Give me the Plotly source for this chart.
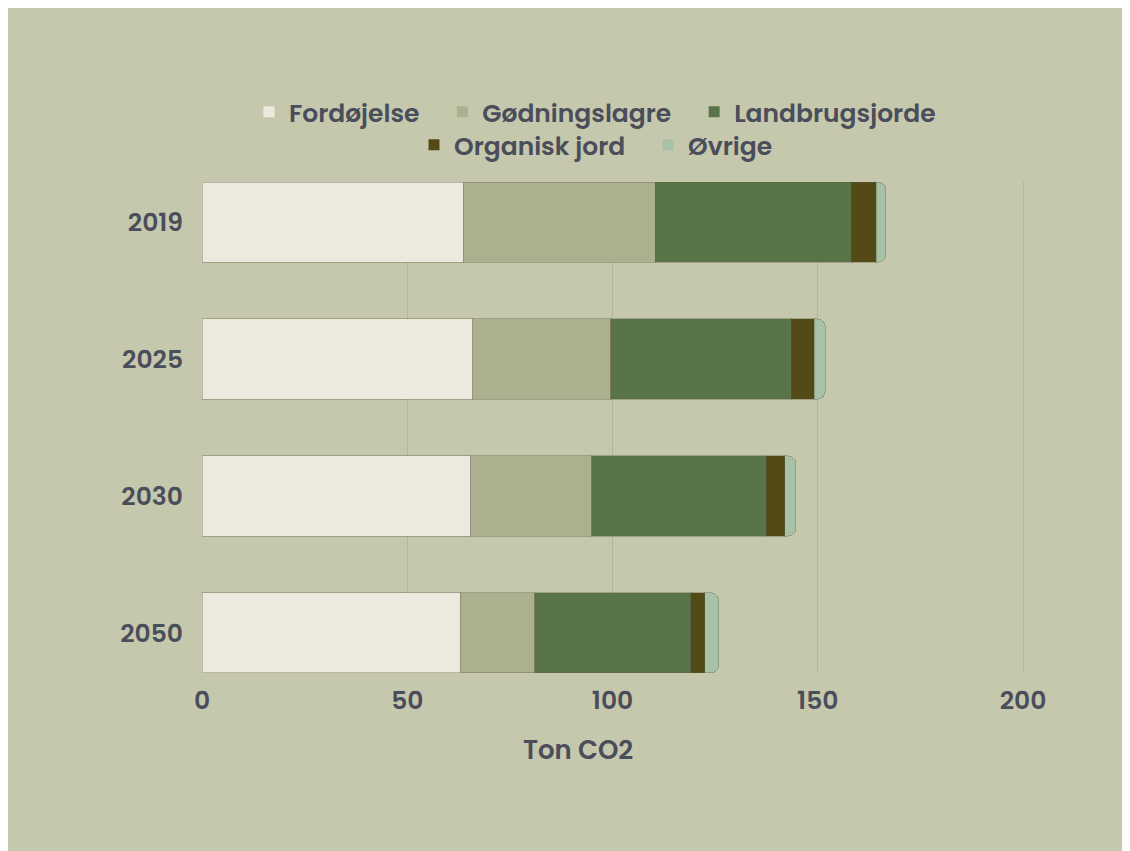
import plotly.graph_objects as go

# data (Ton CO2)
years = ["2019", "2025", "2030", "2050"]
fordoejelse = [63.6, 66.0, 65.5, 62.9]
goedningslagre = [46.8, 33.6, 29.5, 18.2]
landbrugsjorde = [47.7, 43.9, 42.4, 38.0]
organisk_jord = [6.1, 5.6, 4.6, 3.4]
oevrige = [2.4, 2.7, 2.7, 3.4]

# name, values, colour, legend row, last in row
series = [
    ("Fordøjelse", fordoejelse, "#eceadf", "legend", False),
    ("Gødningslagre", goedningslagre, "#adb08f", "legend", False),
    ("Landbrugsjorde", landbrugsjorde, "#5a744a", "legend", True),
    ("Organisk jord", organisk_jord, "#544a18", "legend2", False),
    ("Øvrige", oevrige, "#a8c2a8", "legend2", True),
]

bg = "#c5c8ad"
txt = "#4a4d5a"
font_family = "Poppins, Open Sans, sans-serif"
pad = "\u00a0" * 3  # extra space between legend entries

fig = go.Figure()
for name, vals, col, leg, last in series:
    fig.add_bar(
        y=years, x=vals, name=name, orientation="h",
        marker=dict(color=col, line=dict(color="rgba(90,90,60,0.35)", width=1)),
        showlegend=False,
    )
    # legend entry with a plain square symbol
    fig.add_scatter(
        x=[None], y=[None], mode="markers", name=name if last else name + pad,
        marker=dict(symbol="square", size=11, color=col),
        legend=leg, hoverinfo="skip",
    )

# plot area in figure px: x 194..1092, y 174..665
L, R, T, B = 194, 1092, 174, 665
W, H = 1130, 851
pw, ph = R - L, B - T

def px_x(x):
    return (x - L) / pw

def px_y(y):
    return (B - y) / ph

fig.add_annotation(text="Ton CO2", xref="paper", yref="paper",
                   x=px_x(570), y=px_y(742), xanchor="center", yanchor="middle",
                   showarrow=False,
                   font=dict(size=26, color=txt, family=font_family, weight=600))

fig.update_layout(
    width=W, height=H,
    margin=dict(l=L, r=W - R, t=T, b=H - B),
    paper_bgcolor=bg,
    plot_bgcolor=bg,
    barmode="stack",
    bargap=0.415,
    barcornerradius=8,
    font=dict(family=font_family, color=txt, size=25, weight=600),
    legend=dict(orientation="h", x=px_x(587), xanchor="center",
                y=px_y(104), yanchor="middle", bgcolor="rgba(0,0,0,0)",
                font=dict(size=25, color=txt), traceorder="normal",
                itemwidth=30, tracegroupgap=0),
    legend2=dict(orientation="h", x=px_x(588), xanchor="center",
                 y=px_y(137), yanchor="middle", bgcolor="rgba(0,0,0,0)",
                 font=dict(size=25, color=txt), traceorder="normal",
                 itemwidth=30, tracegroupgap=0),
    xaxis=dict(range=[0, pw / 4.105], tickvals=[0, 50, 100, 150, 200],
               showgrid=True, gridcolor="#b3b69b", gridwidth=1,
               zeroline=False, showline=False, ticklabelstandoff=10,
               tickfont=dict(size=25, color=txt)),
    yaxis=dict(type="category", categoryorder="array", categoryarray=years,
               range=[3.2927, -0.2927], showgrid=False, zeroline=False,
               ticklabelstandoff=18, tickfont=dict(size=25, color=txt)),
)

fig.write_html("out.html")
